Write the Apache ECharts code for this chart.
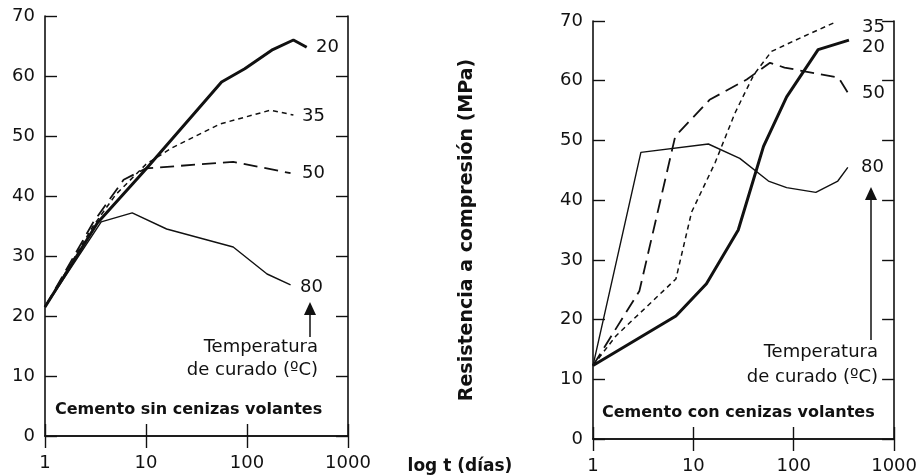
<!DOCTYPE html>
<html>
<head>
<meta charset="utf-8">
<title>Resistencia a compresión</title>
<script src="https://cdn.jsdelivr.net/npm/echarts@6/dist/echarts.min.js"></script>
<style>
  html, body { margin: 0; padding: 0; background: #fff; }
  #chart { width: 920px; height: 475px; }
</style>
</head>
<body>
<div id="chart"></div>
<script>
// [t (dias), MPa]
// left panel: sin cenizas volantes
var sin20 = [[1, 21.5], [3.3, 35.5], [10, 44.5], [56, 59], [95, 61.2], [180, 64.4], [288, 66], [390, 64.8]];
var sin35 = [[1, 21.5], [3, 35], [5, 40.2], [10, 45.3], [18, 48], [54, 52], [170, 54.3], [288, 53.5]];
var sin50 = [[1, 21.5], [3, 35.6], [6, 42.7], [10, 44.6], [73, 45.7], [270, 43.8]];
var sin80 = [[1, 21.5], [3.6, 35.7], [7.3, 37.2], [16, 34.5], [73, 31.5], [158, 27], [270, 25.2]];

// right panel: con cenizas volantes
var con20 = [[1, 12.3], [6.7, 20.6], [13.5, 26], [28, 35], [50, 49], [85, 57.3], [175, 65.2], [355, 66.8]];
var con35 = [[1, 12.3], [1.7, 17.3], [6.7, 26.8], [9.6, 38], [16.5, 46.3], [26, 54.6], [40, 61], [60, 64.9], [114, 67.1], [268, 69.9]];
var con50 = [[1, 12.3], [2.9, 24.8], [6.6, 50.7], [14.5, 56.8], [34, 60.2], [58, 63], [81, 62.2], [280, 60.5], [355, 57.7]];
var con80 = [[1, 12.3], [3, 48], [14.1, 49.4], [29, 47], [56, 43.2], [85, 42.1], [166, 41.3], [275, 43.2], [346, 45.5]];

var xTicks = [1, 10, 100, 1000];
var yMin = 0, yMax = 70, yStep = 10;
var tempLabels = ['20', '35', '50', '80'];

var FONT = '"DejaVu Sans", sans-serif';
var black = '#111';

var chart = echarts.init(document.getElementById('chart'));

function xAxis(grid, pos, labels) {
  return {
    type: 'log', logBase: 10, min: 1, max: 1000, gridIndex: grid, position: pos,
    axisLine: { show: true, lineStyle: { color: black, width: 1.6 } },
    axisTick: { show: true, inside: true, length: 12, lineStyle: { color: black, width: 1.4 } },
    minorTick: { show: false },
    splitLine: { show: false },
    axisLabel: {
      show: labels, color: black, fontSize: 18, fontFamily: FONT, margin: 18,
      showMinLabel: true, showMaxLabel: true,
      formatter: function (v) { return xTicks.indexOf(Math.round(v)) >= 0 ? String(Math.round(v)) : ''; }
    }
  };
}
function yAxis(grid, pos, labels) {
  return {
    type: 'value', min: yMin, max: yMax, interval: yStep, gridIndex: grid, position: pos,
    axisLine: { show: true, lineStyle: { color: black, width: 1.6 } },
    axisTick: { show: true, inside: true, length: 12, lineStyle: { color: black, width: 1.4 } },
    splitLine: { show: false },
    axisLabel: { show: labels, color: black, fontSize: 18, fontFamily: FONT, margin: 10 }
  };
}

function line(data, xi, yi, type) {
  var ls = { color: black };
  if (type === '20') { ls.width = 3; ls.type = 'solid'; }
  if (type === '35') { ls.width = 1.5; ls.type = [5, 4]; }
  if (type === '50') { ls.width = 1.8; ls.type = [14, 7]; }
  if (type === '80') { ls.width = 1.4; ls.type = 'solid'; }
  return {
    name: type, type: 'line', data: data, xAxisIndex: xi, yAxisIndex: yi,
    symbol: 'none', smooth: false, lineStyle: ls, silent: true
  };
}

function txt(s, x, y, align, bold, size) {
  return {
    type: 'text', x: x, y: y,
    style: {
      text: s, fill: black, align: align, verticalAlign: 'middle',
      font: (bold ? 'bold ' : '') + (size || 18) + 'px ' + FONT
    }
  };
}
function arrow(x, tip, bottom) {
  return [
    { type: 'line', shape: { x1: x, y1: tip + 10, x2: x, y2: bottom }, style: { stroke: black, lineWidth: 1.5 } },
    { type: 'polygon', shape: { points: [[x, tip], [x - 6, tip + 13], [x + 6, tip + 13]] }, style: { fill: black } }
  ];
}

var graphics = [
  txt(tempLabels[0], 316, 47, 'left'),
  txt(tempLabels[1], 302, 116, 'left'),
  txt(tempLabels[2], 302, 173, 'left'),
  txt(tempLabels[3], 300, 287, 'left'),
  txt('Temperatura', 318, 347, 'right'),
  txt('de curado (ºC)', 318, 370, 'right'),
  txt('Cemento sin cenizas volantes', 55, 410, 'left', true, 16),

  txt(tempLabels[1], 862, 27, 'left'),
  txt(tempLabels[0], 862, 47, 'left'),
  txt(tempLabels[2], 862, 93, 'left'),
  txt(tempLabels[3], 861, 167, 'left'),
  txt('Temperatura', 878, 352, 'right'),
  txt('de curado (ºC)', 878, 377, 'right'),
  txt('Cemento con cenizas volantes', 602, 413, 'left', true, 16),

  {
    type: 'text', x: 467, y: 230, rotation: Math.PI / 2,
    style: { text: 'Resistencia a compresión (MPa)', fill: black, align: 'center', verticalAlign: 'middle', font: 'bold 19px ' + FONT }
  },
  txt('log t (días)', 460, 467, 'center', true, 17)
].concat(arrow(310, 302, 337)).concat(arrow(871, 187, 340));

chart.setOption({
  animation: false,
  backgroundColor: '#fff',
  grid: [
    { left: 45, top: 16, width: 303, height: 420 },
    { left: 593, top: 21, width: 305, height: 420 }
  ],
  xAxis: [xAxis(0, 'bottom', true), xAxis(0, 'top', false), xAxis(1, 'bottom', true), xAxis(1, 'top', false)],
  yAxis: [yAxis(0, 'left', true), yAxis(0, 'right', false), yAxis(1, 'left', true), yAxis(1, 'right', false)],
  series: [
    line(sin20, 0, 0, '20'), line(sin35, 0, 0, '35'), line(sin50, 0, 0, '50'), line(sin80, 0, 0, '80'),
    line(con20, 2, 2, '20'), line(con35, 2, 2, '35'), line(con50, 2, 2, '50'), line(con80, 2, 2, '80')
  ],
  graphic: graphics
});
</script>
</body>
</html>
